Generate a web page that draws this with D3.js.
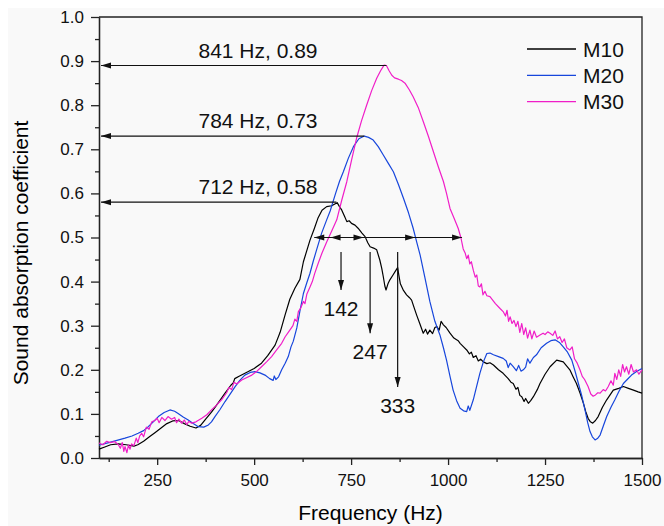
<!DOCTYPE html>
<html>
<head>
<meta charset="utf-8">
<script src="https://cdn.jsdelivr.net/npm/d3@7"></script>
<style>
  body { margin: 0; background: #fff; }
  svg { display: block; font-family: Arial, "Liberation Sans", sans-serif; }
  .axis path, .axis line { stroke: #222; stroke-width: 1.3px; }
  .axis text { font-size: 17px; fill: #111; }
  .curve { fill: none; stroke-width: 1.2px; stroke-linejoin: round; }
  .note { font-size: 21px; fill: #111; }
</style>
</head>
<body>
<div id="chart"></div>
<script>
// ---- data ----
var series_names = ["M10", "M20", "M30"];
var series_colors = ["#000000", "#1746dc", "#f01ec8"];

var m10 = [[100,0.02],[115,0.025],[130,0.03],[150,0.032],[170,0.03],[190,0.027],[200,0.03],[215,0.038],[230,0.048],[245,0.058],[260,0.068],[275,0.078],[290,0.084],[305,0.085],[320,0.078],[335,0.072],[350,0.068],[362,0.074],[375,0.088],[390,0.104],[400,0.116],[425,0.147],[440,0.165],[446,0.17],[450,0.18],[460,0.185],[485,0.196],[500,0.203],[519,0.215],[535,0.232],[554,0.256],[567,0.285],[580,0.325],[592,0.36],[605,0.385],[618,0.405],[627,0.445],[644,0.494],[655,0.52],[665,0.545],[675,0.562],[687,0.57],[700,0.572],[708,0.576],[714,0.579],[720,0.57],[726,0.562],[733,0.548],[739,0.536],[745,0.538],[751,0.532],[760,0.528],[768,0.521],[778,0.51],[786,0.502],[793,0.488],[799,0.479],[808,0.476],[816,0.472],[824,0.449],[829,0.43],[833,0.411],[837,0.39],[840,0.381],[845,0.395],[850,0.404],[858,0.415],[865,0.425],[870,0.432],[873,0.415],[877,0.395],[885,0.38],[893,0.37],[900,0.364],[906,0.358],[912,0.342],[919,0.324],[927,0.305],[936,0.283],[942,0.292],[947,0.281],[953,0.29],[960,0.282],[966,0.296],[971,0.298],[977,0.29],[982,0.31],[988,0.302],[995,0.296],[1005,0.283],[1015,0.272],[1026,0.266],[1031,0.26],[1040,0.252],[1048,0.245],[1055,0.236],[1060,0.24],[1065,0.228],[1072,0.232],[1078,0.22],[1084,0.224],[1091,0.218],[1100,0.214],[1108,0.216],[1117,0.211],[1130,0.2],[1142,0.192],[1155,0.18],[1162,0.172],[1168,0.169],[1175,0.156],[1180,0.16],[1185,0.142],[1190,0.139],[1196,0.128],[1200,0.135],[1207,0.124],[1213,0.13],[1220,0.139],[1230,0.155],[1237,0.169],[1250,0.19],[1263,0.207],[1280,0.222],[1297,0.218],[1314,0.2],[1322,0.185],[1331,0.169],[1340,0.148],[1349,0.124],[1355,0.105],[1361,0.09],[1367,0.082],[1373,0.079],[1380,0.085],[1387,0.094],[1398,0.115],[1409,0.132],[1426,0.154],[1440,0.158],[1452,0.162],[1465,0.158],[1478,0.154],[1490,0.15],[1500,0.147]];

var m20 = [[100,0.029],[130,0.036],[167,0.045],[185,0.05],[201,0.056],[215,0.062],[227,0.071],[240,0.082],[253,0.094],[268,0.103],[283,0.109],[295,0.106],[304,0.101],[317,0.093],[330,0.086],[343,0.078],[356,0.071],[370,0.07],[382,0.075],[390,0.082],[399,0.094],[412,0.11],[425,0.128],[438,0.145],[451,0.162],[463,0.176],[476,0.188],[490,0.194],[502,0.196],[515,0.193],[528,0.188],[540,0.18],[549,0.176],[552,0.186],[556,0.178],[563,0.184],[571,0.2],[580,0.215],[588,0.23],[595,0.252],[601,0.265],[610,0.295],[618,0.333],[627,0.373],[636,0.398],[644,0.419],[652,0.445],[661,0.472],[674,0.51],[687,0.54],[696,0.56],[710,0.6],[720,0.627],[730,0.649],[743,0.68],[756,0.706],[770,0.724],[784,0.73],[795,0.727],[807,0.721],[820,0.706],[833,0.687],[846,0.668],[859,0.649],[872,0.62],[885,0.589],[898,0.556],[910,0.521],[919,0.49],[928,0.46],[940,0.41],[953,0.355],[966,0.31],[979,0.279],[988,0.25],[996,0.222],[1005,0.185],[1013,0.154],[1022,0.13],[1031,0.113],[1040,0.107],[1048,0.105],[1052,0.118],[1056,0.108],[1065,0.132],[1073,0.16],[1082,0.192],[1091,0.218],[1100,0.237],[1108,0.238],[1117,0.234],[1130,0.23],[1142,0.226],[1150,0.22],[1155,0.205],[1160,0.215],[1168,0.207],[1176,0.198],[1182,0.21],[1188,0.197],[1194,0.2],[1200,0.206],[1205,0.225],[1211,0.215],[1220,0.228],[1228,0.234],[1240,0.25],[1254,0.26],[1265,0.266],[1276,0.268],[1287,0.262],[1297,0.252],[1308,0.24],[1319,0.222],[1328,0.195],[1336,0.169],[1345,0.14],[1353,0.109],[1360,0.08],[1366,0.06],[1372,0.048],[1379,0.041],[1386,0.045],[1392,0.052],[1400,0.072],[1409,0.094],[1420,0.115],[1430,0.132],[1441,0.152],[1452,0.169],[1462,0.178],[1473,0.188],[1486,0.196],[1500,0.203]];

var m30 = [[100,0.034],[110,0.03],[120,0.038],[128,0.035],[141,0.037],[150,0.03],[155,0.022],[160,0.035],[164,0.015],[167,0.026],[172,0.012],[176,0.03],[180,0.02],[184,0.032],[190,0.028],[196,0.045],[200,0.035],[205,0.05],[210,0.056],[215,0.048],[222,0.07],[229,0.065],[236,0.082],[244,0.085],[250,0.09],[255,0.08],[262,0.092],[270,0.085],[278,0.094],[287,0.088],[295,0.092],[300,0.08],[306,0.088],[313,0.079],[320,0.086],[326,0.076],[332,0.083],[339,0.079],[350,0.082],[365,0.09],[378,0.098],[390,0.109],[403,0.12],[416,0.132],[429,0.148],[435,0.16],[442,0.155],[448,0.172],[455,0.168],[468,0.177],[480,0.182],[494,0.188],[506,0.196],[519,0.207],[532,0.218],[545,0.23],[558,0.245],[571,0.26],[580,0.275],[588,0.285],[592,0.29],[600,0.3],[605,0.315],[610,0.31],[614,0.332],[620,0.34],[627,0.355],[631,0.35],[636,0.372],[644,0.388],[650,0.4],[656,0.418],[665,0.441],[675,0.465],[687,0.49],[700,0.515],[713,0.54],[726,0.585],[739,0.627],[751,0.675],[764,0.725],[777,0.765],[790,0.8],[803,0.833],[816,0.861],[826,0.878],[835,0.891],[841,0.89],[848,0.878],[855,0.868],[862,0.862],[872,0.859],[880,0.856],[889,0.85],[900,0.835],[910,0.819],[923,0.795],[936,0.763],[949,0.73],[962,0.695],[975,0.66],[988,0.627],[996,0.6],[1005,0.566],[1015,0.545],[1026,0.521],[1033,0.5],[1039,0.474],[1044,0.465],[1048,0.452],[1052,0.46],[1056,0.44],[1060,0.445],[1065,0.426],[1070,0.41],[1074,0.415],[1078,0.39],[1082,0.388],[1086,0.395],[1090,0.37],[1095,0.378],[1100,0.368],[1108,0.366],[1115,0.358],[1122,0.35],[1134,0.339],[1142,0.332],[1148,0.322],[1152,0.335],[1156,0.31],[1160,0.32],[1165,0.305],[1170,0.312],[1175,0.298],[1180,0.31],[1185,0.285],[1190,0.305],[1195,0.28],[1200,0.295],[1205,0.272],[1211,0.29],[1216,0.27],[1222,0.288],[1228,0.274],[1237,0.279],[1245,0.283],[1250,0.28],[1257,0.286],[1263,0.283],[1270,0.278],[1276,0.288],[1282,0.27],[1288,0.275],[1294,0.262],[1300,0.27],[1306,0.25],[1314,0.245],[1320,0.252],[1326,0.225],[1333,0.215],[1340,0.2],[1346,0.185],[1352,0.178],[1361,0.162],[1368,0.145],[1374,0.14],[1380,0.143],[1386,0.148],[1392,0.147],[1400,0.155],[1406,0.152],[1413,0.162],[1420,0.175],[1426,0.165],[1430,0.192],[1435,0.178],[1440,0.2],[1445,0.185],[1450,0.212],[1455,0.195],[1460,0.207],[1466,0.19],[1472,0.212],[1478,0.195],[1486,0.2],[1492,0.19],[1500,0.2]];

var x_ticks = [250, 500, 750, 1000, 1250, 1500];
var y_ticks = [0, 0.1, 0.2, 0.3, 0.4, 0.5, 0.6, 0.7, 0.8, 0.9, 1.0];

// peaks: frequency, value, label
var peak_freq = [841, 784, 712];
var peak_val = [0.89, 0.73, 0.58];
var peak_label = ["841 Hz, 0.89", "784 Hz, 0.73", "712 Hz, 0.58"];
var peak_label_freq = 510;

// half-width line at 0.5 and its arrow heads
var hw_level = 0.5;
var hw_range = [655, 1036];
var hw_left_heads = [655, 697];
var hw_right_heads = [782, 915, 1036];

// width labels with vertical arrows
var width_label = ["142", "247", "333"];
var width_freq = [724, 799, 870];
var width_top = [0.467, 0.467, 0.467];
var width_bottom = [0.381, 0.283, 0.161];

// ---- layout ----
var W = 664, H = 526;
var x = d3.scaleLinear().domain([100, 1500]).range([99, 642]);
var y = d3.scaleLinear().domain([0, 1]).range([458, 17]);

var svg = d3.select("#chart").append("svg")
    .attr("width", W)
    .attr("height", H);

svg.append("rect")
    .attr("x", 8).attr("y", 8)
    .attr("width", W - 8).attr("height", H - 8)
    .attr("fill", "#f9f9f9");

// frame top/right
svg.append("path")
    .attr("d", "M" + x(100) + "," + y(1) + "H" + x(1500) + "V" + y(0))
    .attr("fill", "none")
    .attr("stroke", "#222")
    .attr("stroke-width", 1.3);

// minor ticks
var x_minor = d3.range(125, 1501, 125).filter(function(d){ return x_ticks.indexOf(d) < 0; });
var y_minor = d3.range(0.05, 1, 0.1);

svg.append("g").attr("class", "axis")
    .attr("transform", "translate(0," + y(0) + ")")
    .call(d3.axisBottom(x).tickValues(x_minor).tickSize(4).tickSizeOuter(0).tickFormat(""));
svg.append("g").attr("class", "axis")
    .attr("transform", "translate(" + x(100) + ",0)")
    .call(d3.axisLeft(y).tickValues(y_minor).tickSize(4).tickSizeOuter(0).tickFormat(""));

svg.append("g").attr("class", "axis")
    .attr("transform", "translate(0," + y(0) + ")")
    .call(d3.axisBottom(x).tickValues(x_ticks).tickSize(7).tickSizeOuter(0).tickPadding(9).tickFormat(d3.format("d")));
svg.append("g").attr("class", "axis")
    .attr("transform", "translate(" + x(100) + ",0)")
    .call(d3.axisLeft(y).tickValues(y_ticks).tickSize(8).tickSizeOuter(0).tickPadding(7).tickFormat(d3.format(".1f")));

// axis titles
svg.append("text")
    .attr("x", (x(100) + x(1500)) / 2)
    .attr("y", 520)
    .attr("text-anchor", "middle")
    .attr("font-size", 21)
    .text("Frequency (Hz)");

svg.append("text")
    .attr("transform", "translate(28,253) rotate(-90)")
    .attr("text-anchor", "middle")
    .attr("font-size", 21)
    .text("Sound absorption coefficient");

// curves
var line = d3.line()
    .x(function(d){ return x(d[0]); })
    .y(function(d){ return y(d[1]); });

var all_series = [m10, m20, m30];
svg.append("g").selectAll("path")
    .data(all_series)
  .enter().append("path")
    .attr("class", "curve")
    .attr("d", line)
    .attr("stroke", function(d, i){ return series_colors[i]; });

// arrow helper
function head(px, py, dir){
  // dir: "l", "r", "d"
  var L = 10, h = 3;
  if (dir == "l") return "M" + px + "," + py + "l" + L + "," + (-h) + "v" + (2 * h) + "z";
  if (dir == "r") return "M" + px + "," + py + "l" + (-L) + "," + (-h) + "v" + (2 * h) + "z";
  return "M" + px + "," + py + "l" + (-h) + "," + (-L) + "h" + (2 * h) + "z";
}

var notes = svg.append("g");

// peak arrows
peak_freq.forEach(function(f, i){
  var py = y(peak_val[i]);
  notes.append("line")
    .attr("x1", x(f)).attr("x2", x(100) + 2)
    .attr("y1", py).attr("y2", py)
    .attr("stroke", "#111").attr("stroke-width", 1.2);
  notes.append("path").attr("d", head(x(100) + 2, py, "l")).attr("fill", "#111");
  notes.append("text")
    .attr("class", "note")
    .attr("x", x(peak_label_freq))
    .attr("y", py - 8)
    .attr("text-anchor", "middle")
    .text(peak_label[i]);
});

// half width line
notes.append("line")
  .attr("x1", x(hw_range[0])).attr("x2", x(hw_range[1]))
  .attr("y1", y(hw_level)).attr("y2", y(hw_level))
  .attr("stroke", "#111").attr("stroke-width", 1.2);
hw_left_heads.forEach(function(f){
  notes.append("path").attr("d", head(x(f), y(hw_level), "l")).attr("fill", "#111");
});
hw_right_heads.forEach(function(f){
  notes.append("path").attr("d", head(x(f), y(hw_level), "r")).attr("fill", "#111");
});

// vertical arrows with width labels
width_freq.forEach(function(f, i){
  notes.append("line")
    .attr("x1", x(f)).attr("x2", x(f))
    .attr("y1", y(width_top[i])).attr("y2", y(width_bottom[i]))
    .attr("stroke", "#111").attr("stroke-width", 1.2);
  notes.append("path").attr("d", head(x(f), y(width_bottom[i]), "d")).attr("fill", "#111");
  notes.append("text")
    .attr("class", "note")
    .attr("x", x(f))
    .attr("y", y(width_bottom[i]) + 26)
    .attr("text-anchor", "middle")
    .text(width_label[i]);
});

// legend
var legend = svg.append("g").attr("transform", "translate(527,49)");
series_names.forEach(function(name, i){
  var g = legend.append("g").attr("transform", "translate(0," + (i * 26.3) + ")");
  g.append("line")
    .attr("x1", 0).attr("x2", 49)
    .attr("stroke", series_colors[i]).attr("stroke-width", 1.3);
  g.append("text")
    .attr("class", "note")
    .attr("x", 56).attr("y", 7.5)
    .text(name);
});
</script>
</body>
</html>
